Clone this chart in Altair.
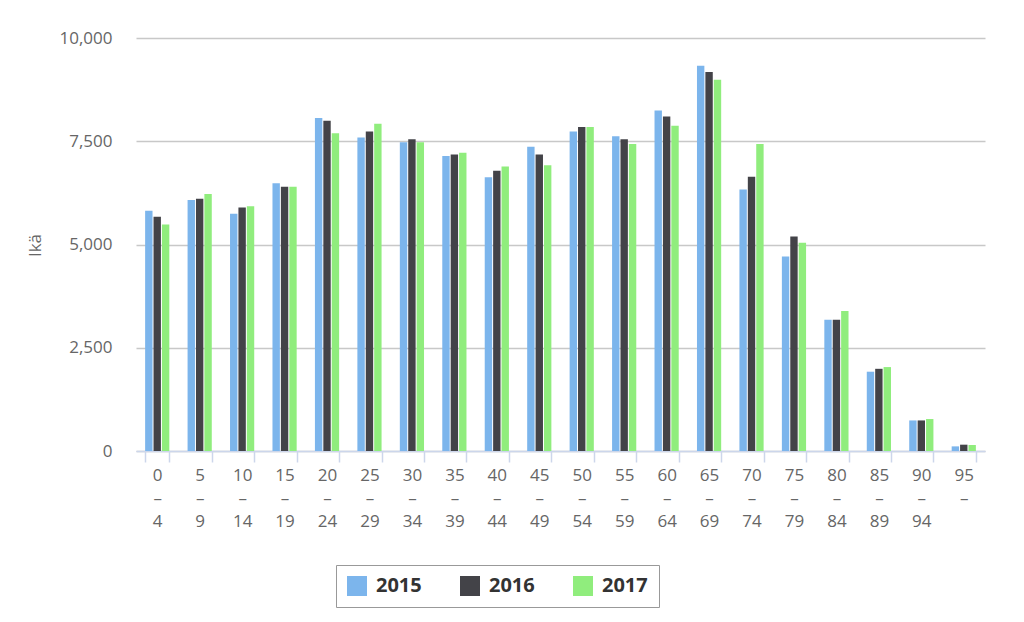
import altair as alt
import pandas as pd

categories = ["0-4", "5-9", "10-14", "15-19", "20-24", "25-29", "30-34", "35-39",
              "40-44", "45-49", "50-54", "55-59", "60-64", "65-69", "70-74", "75-79",
              "80-84", "85-89", "90-94", "95-"]
years = ["2015", "2016", "2017"]
v2015 = [5815, 6080, 5745, 6485, 8065, 7590, 7475, 7145, 6630, 7365,
         7735, 7620, 8245, 9330, 6330, 4710, 3180, 1920, 740, 112]
v2016 = [5670, 6110, 5895, 6400, 7995, 7735, 7548, 7178, 6783, 7178,
         7848, 7550, 8100, 9177, 6638, 5194, 3180, 1990, 740, 153]
v2017 = [5485, 6220, 5925, 6400, 7695, 7922, 7476, 7219, 6888, 6920,
         7848, 7435, 7874, 8991, 7435, 5040, 3388, 2032, 774, 145]
colors = ["#7cb5ec", "#434348", "#90ed7d"]

rows = []
for y, vals in zip(years, [v2015, v2016, v2017]):
    for c, v in zip(categories, vals):
        rows.append({"cat": c, "year": y, "value": v})
df = pd.DataFrame(rows)

FONT = "Open Sans"

chart = alt.Chart(df).mark_bar().encode(
    x=alt.X("cat:N", sort=categories, title=None,
            scale=alt.Scale(paddingInner=0.43, paddingOuter=0.215),
            axis=alt.Axis(labelAngle=0, tickBand="extent",
                          labelExpr="isValid(datum.value) ? [split(datum.value,'-')[0], '–', split(datum.value,'-')[1]] : ''",
                          labelLineHeight=23, labelFontSize=17, labelColor="#666666",
                          labelFont=FONT, labelPadding=5, domainColor="#ccd6eb",
                          tickColor="#ccd6eb", tickSize=11, domainWidth=1.5, tickWidth=1.5,
                          grid=False)),
    xOffset=alt.XOffset("year:N", sort=years, scale=alt.Scale(paddingInner=0.12)),
    y=alt.Y("value:Q", title="Ikä",
            scale=alt.Scale(domain=[0, 10000], nice=False),
            axis=alt.Axis(values=[0, 2500, 5000, 7500, 10000], format=",d",
                          domain=False, ticks=False, labelPadding=24,
                          labelFontSize=17, labelColor="#666666", labelFont=FONT,
                          gridColor="#c8c8c8", gridWidth=1.5,
                          titleFont=FONT, titleFontSize=17, titleColor="#666666",
                          titleFontWeight="normal", titleAngle=270,
                          titleX=-101, titleY=207, titleAlign="center",
                          titleBaseline="middle")),
    color=alt.Color("year:N", sort=years,
                    scale=alt.Scale(domain=years, range=colors),
                    legend=alt.Legend(title=None, orient="none", direction="horizontal",
                                      legendX=200, legendY=527,
                                      symbolType="square", symbolSize=400,
                                      symbolStrokeWidth=0,
                                      labelFont=FONT, labelFontSize=20,
                                      labelFontWeight="bold", labelColor="#333333",
                                      labelOffset=9, columnPadding=38,
                                      strokeColor="#999999", padding=11)),
).properties(
    width=849, height=413,
    padding={"left": 128, "top": 30, "right": 30, "bottom": 170},
    autosize=alt.AutoSizeParams(type="none"),
).configure_view(stroke=None)

chart.save("out.html", embed_options={"renderer": "svg", "actions": False})
